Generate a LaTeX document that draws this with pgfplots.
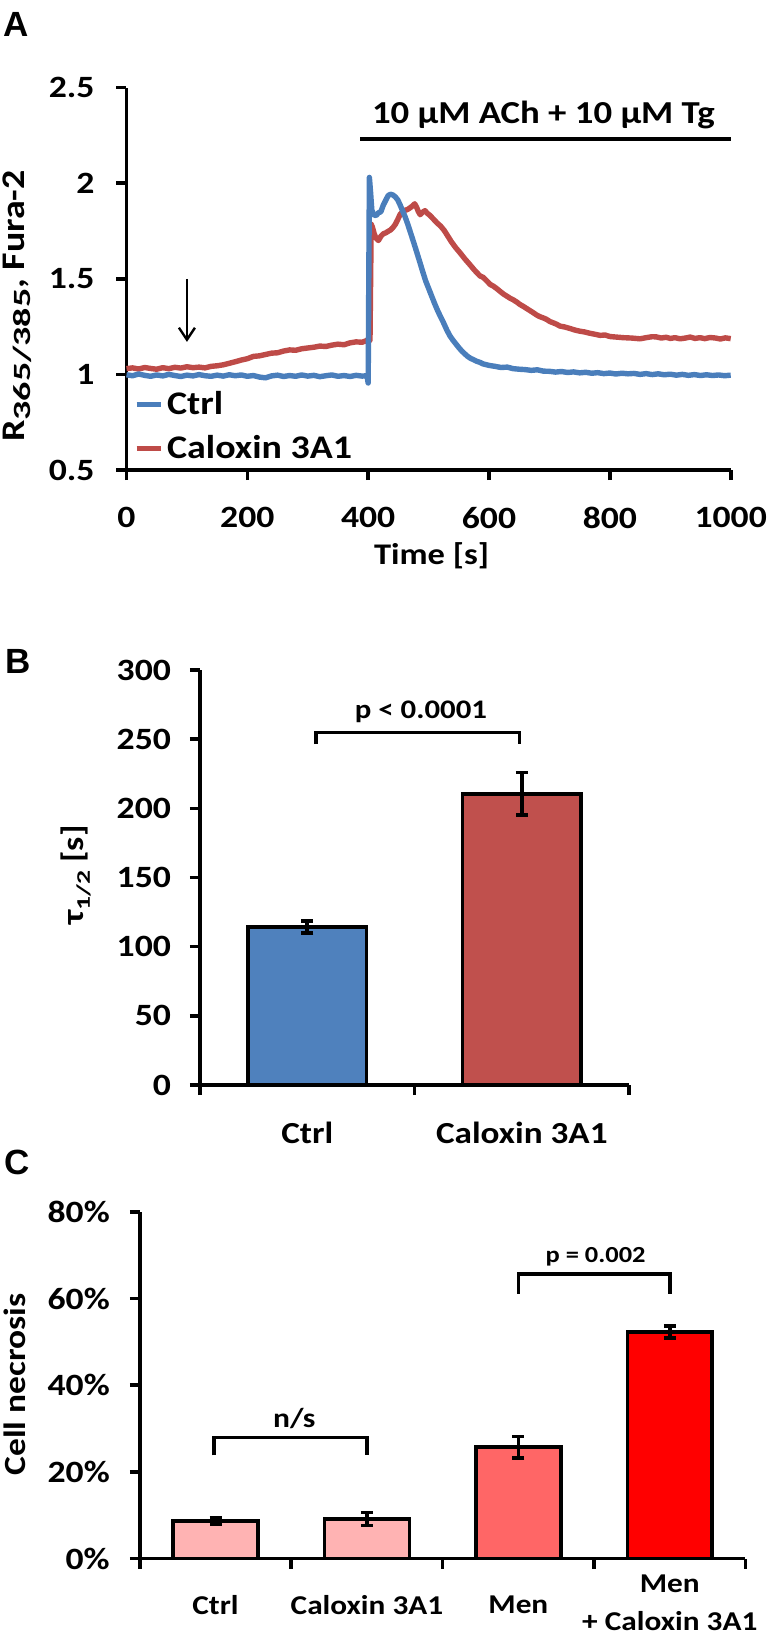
\documentclass[border=0pt]{standalone}
\usepackage{fontspec}
\setmainfont{Carlito}[FakeStretch=1.15]
\newfontfamily\arialfont{Liberation Sans}
\usepackage{graphicx}
\usepackage{pgfplots}
\pgfplotsset{compat=1.18}
\usetikzlibrary{arrows.meta}

\definecolor{ctrlblue}{HTML}{4A7EBB}
\definecolor{calred}{HTML}{BE4B48}
\definecolor{barblue}{HTML}{4F81BD}
\definecolor{barred}{HTML}{C0504D}
\definecolor{pinkA}{HTML}{FFB3B3}
\definecolor{pinkB}{HTML}{FF6666}
\definecolor{redC}{HTML}{FF0000}

\newcommand{\tickfont}{\fontsize{15.5}{18}\selectfont\bfseries}

\pgfplotsset{
  mystyle/.style={
    scale only axis,
    anchor=south west,
    axis x line*=bottom, axis y line*=left,
    axis line style={line width=1.8pt, -, black},
    tick align=outside,
    major tick length=5pt,
    major tick style={line width=1.8pt, black},
    tick label style={font=\tickfont},
    /pgf/number format/assume math mode=true,
    /pgf/number format/1000 sep={},
    clip=false,
  },
  errstyle/.style={
    error bars/.cd, y dir=both, y explicit,
    error bar style={line width=1.8pt, black},
    error mark options={rotate=90, mark size=3pt, line width=1.8pt, black},
  },
}

\pgfplotstableread{
t v
0 0.998
10 0.993
20 1.002
30 0.995
40 0.990
50 0.997
60 0.992
70 1.000
80 0.994
90 0.989
100 0.996
110 0.992
120 0.999
130 0.993
140 0.990
150 0.996
160 0.991
170 0.998
180 0.993
190 0.997
200 0.990
210 0.994
220 0.986
230 0.982
240 0.992
250 0.996
260 0.989
270 0.994
280 0.990
290 0.997
300 0.991
310 0.995
320 0.988
330 0.993
340 0.997
350 0.990
360 0.994
370 0.989
380 0.995
390 0.991
398 0.993
400 0.955
402 2.030
404 1.950
406 1.860
409 1.835
413 1.830
417 1.845
421 1.850
425 1.885
429 1.910
433 1.935
437 1.942
441 1.938
445 1.928
449 1.912
453 1.885
457 1.855
461 1.825
465 1.790
470 1.742
475 1.693
480 1.643
485 1.592
490 1.540
495 1.490
500 1.450
505 1.410
510 1.370
515 1.333
520 1.300
525 1.268
530 1.233
535 1.203
540 1.180
545 1.160
550 1.140
555 1.122
560 1.107
565 1.093
570 1.083
575 1.076
580 1.068
585 1.063
590 1.055
600 1.047
610 1.042
620 1.036
630 1.038
640 1.030
650 1.027
660 1.025
670 1.021
680 1.024
690 1.017
700 1.016
710 1.012
720 1.015
730 1.010
740 1.013
750 1.008
760 1.011
770 1.006
780 1.009
790 1.004
800 1.007
810 1.002
820 1.006
830 1.003
840 1.005
850 1.000
860 1.004
870 0.999
880 1.003
890 0.998
900 1.001
910 0.996
920 1.000
930 0.995
940 0.999
950 0.994
960 0.998
970 0.994
980 0.997
990 0.993
1000 0.996
}\ctrltable

\pgfplotstableread{
t v
0 1.030
10 1.034
20 1.028
30 1.036
40 1.031
50 1.027
60 1.035
70 1.030
80 1.037
90 1.033
100 1.040
110 1.035
120 1.038
130 1.034
140 1.042
150 1.045
160 1.050
170 1.058
180 1.066
190 1.075
200 1.082
210 1.094
220 1.097
230 1.104
240 1.111
250 1.113
260 1.122
270 1.128
280 1.126
290 1.134
300 1.138
310 1.142
320 1.148
330 1.146
340 1.153
350 1.158
360 1.155
370 1.165
380 1.170
390 1.168
400 1.180
403 1.178
405 1.785
407 1.770
410 1.735
413 1.712
417 1.700
421 1.722
425 1.735
429 1.740
433 1.748
437 1.755
441 1.768
445 1.785
449 1.810
453 1.838
457 1.850
461 1.858
465 1.862
469 1.870
473 1.880
477 1.892
480 1.875
483 1.852
486 1.835
490 1.848
494 1.856
498 1.842
502 1.832
508 1.812
514 1.792
520 1.775
526 1.752
532 1.722
538 1.692
545 1.662
552 1.636
560 1.604
568 1.575
576 1.545
585 1.515
590 1.508
596 1.490
602 1.470
607 1.462
613 1.448
618 1.435
624 1.420
629 1.410
635 1.398
640 1.390
646 1.378
651 1.366
657 1.355
662 1.345
668 1.333
673 1.323
679 1.310
684 1.302
690 1.295
695 1.288
701 1.276
706 1.270
712 1.262
717 1.253
725 1.248
734 1.240
742 1.232
750 1.226
758 1.222
767 1.215
775 1.210
784 1.204
792 1.206
800 1.198
811 1.195
822 1.192
836 1.190
850 1.186
860 1.192
870 1.197
877 1.196
885 1.190
893 1.194
900 1.188
908 1.192
916 1.186
925 1.190
933 1.195
941 1.188
949 1.192
957 1.187
966 1.193
975 1.190
983 1.185
991 1.191
1000 1.187
}\caltable

\begin{document}
\begin{tikzpicture}
\path[use as bounding box] (0,0) rectangle (384.5pt,-817.5pt);

% ---------------- Panel A ----------------
\begin{axis}[mystyle,
  at={(63.25pt,-235pt)},
  width=302.1pt, height=191.25pt,
  xmin=0, xmax=1000, ymin=0.5, ymax=2.5,
  xtick={0,200,400,600,800,1000},
  ytick={0.5,1,1.5,2,2.5},
  xticklabel style={yshift=-10pt},
  yticklabel style={xshift=-7.5pt},
  legend style={draw=none, fill=none, at={(rel axis cs:0.012,0.217)}, anchor=north west,
    font=\fontsize{16.5}{19}\selectfont\bfseries, inner sep=0pt, row sep=5pt,
    /tikz/every even column/.style={column sep=1pt}},
  legend cell align=left,
  reverse legend,
  legend image code/.code={\draw[#1, line width=2.5pt] (0pt,0pt) -- (12pt,0pt);},
]
\addplot[calred, line width=2.7pt, line join=round] table[x=t, y=v] {\caltable};
\addlegendentry{Caloxin 3A1}
\addplot[ctrlblue, line width=2.7pt, line join=round] table[x=t, y=v] {\ctrltable};
\addlegendentry{Ctrl}
\addplot[black, line width=1.8pt, forget plot] coordinates {(387,2.232) (1000,2.232)};
\addplot[black, line width=1.2pt, -{Straight Barb[length=6pt,width=8pt]}, forget plot] coordinates {(100,1.5) (100,1.17)};
\node[font=\fontsize{16}{19}\selectfont\bfseries] at (axis cs:690,2.354) {10 µM ACh + 10 µM Tg};
\end{axis}

% ---------------- Panel B ----------------
\begin{axis}[mystyle,
  at={(100pt,-542.5pt)},
  width=214.55pt, height=207.5pt,
  xmin=0, xmax=2, ymin=0, ymax=300,
  xtick={0,1,2}, xticklabels={},
  ytick={0,50,100,150,200,250,300},
  yticklabel style={xshift=-6pt},
]
\addplot[ybar, bar width=59.3pt, fill=barblue, draw=black, line width=1.8pt, errstyle]
  coordinates {(0.5,114.2) +- (0,4.5)};
\addplot[ybar, bar width=59.3pt, fill=barred, draw=black, line width=1.8pt, errstyle]
  coordinates {(1.5,210.5) +- (0,15.4)};
\addplot[black, line width=1.8pt, forget plot] coordinates {(0.54,246.4) (0.54,254.8) (1.49,254.8) (1.49,246.4)};
\node[font=\fontsize{13.4}{16}\selectfont\bfseries] at (axis cs:1.03,270) {p < 0.0001};
\node[font=\fontsize{15.3}{18}\selectfont\bfseries, yshift=-24pt] at (axis cs:0.5,0) {Ctrl};
\node[font=\fontsize{15.3}{18}\selectfont\bfseries, yshift=-24pt] at (axis cs:1.5,0) {Caloxin 3A1};
\end{axis}

% ---------------- Panel C ----------------
\begin{axis}[mystyle,
  at={(69.9pt,-779.3pt)},
  width=302.85pt, height=173.45pt,
  xmin=0, xmax=4, ymin=0, ymax=80,
  xtick={0,1,2,3,4}, xticklabels={},
  ytick={0,20,40,60,80},
  yticklabels={0\%,20\%,40\%,60\%,80\%},
  yticklabel style={xshift=-6.5pt},
]
\addplot[ybar, bar width=42.4pt, fill=pinkA, draw=black, line width=1.8pt, errstyle]
  coordinates {(0.5,8.7) +- (0,0.7) (1.5,9.1) +- (0,1.5)};
\addplot[ybar, bar width=42.4pt, fill=pinkB, draw=black, line width=1.8pt, errstyle]
  coordinates {(2.5,25.7) +- (0,2.5)};
\addplot[ybar, bar width=42.4pt, fill=redC, draw=black, line width=1.8pt, errstyle]
  coordinates {(3.5,52.3) +- (0,1.4)};
\addplot[black, line width=1.8pt, forget plot] coordinates {(0.49,23.8) (0.49,27.9) (1.5,27.9) (1.5,23.8)};
\addplot[black, line width=1.8pt, forget plot] coordinates {(2.5,61.1) (2.5,65.7) (3.5,65.7) (3.5,61.1)};
\node[font=\fontsize{13.7}{16}\selectfont\bfseries] at (axis cs:1.02,32.4) {n/s};
\node[font=\fontsize{11.5}{14}\selectfont\bfseries] at (axis cs:3.01,69.5) {p = 0.002};
\node[font=\fontsize{13.6}{16}\selectfont\bfseries, yshift=-23.2pt] at (axis cs:0.5,0) {Ctrl};
\node[font=\fontsize{13.6}{16}\selectfont\bfseries, yshift=-23.2pt] at (axis cs:1.5,0) {Caloxin 3A1};
\node[font=\fontsize{13.6}{16}\selectfont\bfseries, yshift=-23.2pt] at (axis cs:2.5,0) {Men};
\node[font=\fontsize{13.6}{19}\selectfont\bfseries, yshift=-22.2pt, align=center] at (axis cs:3.5,0) {Men\\+ Caloxin 3A1};
\end{axis}

% ---------------- labels ----------------
\node[font=\arialfont\fontsize{17.5}{20}\selectfont\bfseries] at (8pt,-12pt) {A};
\node[font=\arialfont\fontsize{17.5}{20}\selectfont\bfseries] at (9.25pt,-330.5pt) {B};
\node[font=\arialfont\fontsize{17.5}{20}\selectfont\bfseries] at (8.5pt,-581pt) {C};

\node[rotate=90, font=\fontsize{16.5}{19}\selectfont\bfseries] at (8.5pt,-153pt)
  {R\raisebox{-3pt}{\scalebox{1}[0.75]{365/385}}, Fura-2};
\node[rotate=90, font=\fontsize{15.5}{18}\selectfont\bfseries] at (38pt,-437.5pt)
  {τ\raisebox{-3pt}{\scalebox{1}[0.8]{\fontsize{12}{14}\selectfont 1/2}} [s]};
\node[rotate=90, font=\fontsize{15.4}{18}\selectfont\bfseries] at (7.5pt,-692.2pt) {Cell necrosis};
\node[font=\fontsize{15}{18}\selectfont\bfseries] at (215.8pt,-278pt) {Time [s]};
\end{tikzpicture}
\end{document}
